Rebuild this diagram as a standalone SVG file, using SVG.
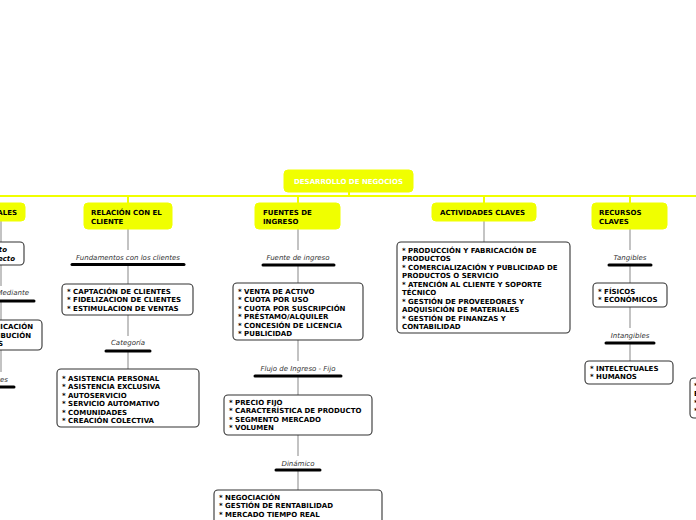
<svg xmlns="http://www.w3.org/2000/svg" width="696" height="520" viewBox="0 0 696 520">
<style>
text{font-family:"DejaVu Sans",Verdana,sans-serif;font-size:7px}
.b{font-weight:bold;fill:#000}
.w{font-weight:bold;fill:#fff}
.bi{font-weight:bold;font-style:italic;fill:#000}
.lbl{font-style:italic;fill:#333}
.y{fill:#f0ff00;stroke:#f0ff00;stroke-width:1}
.box{fill:#fff;stroke:#333;stroke-width:1.1}
.c{stroke:#b0b0b0;stroke-width:1.5;fill:none}
.ys{stroke:#f0ff00;stroke-width:2;fill:none}
.bar{stroke:#000;stroke-width:3;stroke-linecap:round}
</style>
<rect width="696" height="520" fill="#fff"/>
<g id="connectors">
<line class="ys" x1="0" y1="196" x2="696" y2="196"/>
<line class="ys" x1="349" y1="192" x2="349" y2="196"/>
<line class="ys" x1="128" y1="196" x2="128" y2="203"/>
<line class="ys" x1="298" y1="196" x2="298" y2="203"/>
<line class="ys" x1="484" y1="196" x2="484" y2="203"/>
<line class="ys" x1="630" y1="196" x2="630" y2="203"/>
<path class="c" d="M1 221V242M1 265V286M1 301V320M1 350V372"/>
<path class="c" d="M128 229V250M128 265V284M128 315V336M128 351V369"/>
<path class="c" d="M298 229V250M298 265V283M298 340V361M298 376V395M298 435V456M298 470V490"/>
<path class="c" d="M484 221V242"/>
<path class="c" d="M630 229V250M630 265V283M630 307V328M630 343V361"/>
<line class="bar" x1="-30" y1="301" x2="34" y2="301"/>
<line class="bar" x1="-20" y1="387" x2="14" y2="387"/>
<line class="bar" x1="72" y1="264.5" x2="184" y2="264.5"/>
<line class="bar" x1="106" y1="351" x2="150" y2="351"/>
<line class="bar" x1="263" y1="265" x2="334" y2="265"/>
<line class="bar" x1="255" y1="376" x2="341" y2="376"/>
<line class="bar" x1="276" y1="470" x2="320" y2="470"/>
<line class="bar" x1="609" y1="265" x2="651" y2="265"/>
<line class="bar" x1="606" y1="343" x2="654" y2="343"/>
<text class="lbl" x="29" y="294.5" text-anchor="end">Mediante</text>
<text class="lbl" x="8" y="381.5" text-anchor="end">Fases</text>
<text class="lbl" x="128" y="259.5" text-anchor="middle">Fundamentos con los clientes</text>
<text class="lbl" x="128" y="345" text-anchor="middle">Categoría</text>
<text class="lbl" x="298" y="259.5" text-anchor="middle">Fuente de ingreso</text>
<text class="lbl" x="298" y="370.5" text-anchor="middle">Flujo de Ingreso - Fijo</text>
<text class="lbl" x="298" y="465.5" text-anchor="middle">Dinámico</text>
<text class="lbl" x="630" y="259.5" text-anchor="middle">Tangibles</text>
<text class="lbl" x="630" y="337.5" text-anchor="middle">Intangibles</text>
</g>
<g id="root">
<rect class="y" x="284" y="170" width="129" height="22" rx="4"/>
<text class="w" x="348.5" y="183.5" text-anchor="middle">DESARROLLO DE NEGOCIOS</text>
</g>
<g id="canales">
<rect class="y" x="-40" y="203" width="65" height="18" rx="4"/>
<text class="b" x="17" y="215" text-anchor="end">CANALES</text>
</g>
<g id="canales-tipo">
<rect class="box" x="-40" y="242" width="64" height="23" rx="4"/>
<text class="bi" x="7" y="252" text-anchor="end">Directo</text>
<text class="bi" x="15" y="260.5" text-anchor="end">Indirecto</text>
</g>
<g id="canales-mediante">
<rect class="box" x="-40" y="320" width="82" height="30" rx="4"/>
<text class="b" x="33" y="329" text-anchor="end">* COMUNICACIÓN</text>
<text class="b" x="31" y="337.5" text-anchor="end">* DISTRIBUCIÓN</text>
<text class="b" x="3" y="346" text-anchor="end">* VENTAS</text>
</g>
<g id="relacion">
<rect class="y" x="84" y="203" width="88" height="26" rx="4"/>
<text class="b" x="91" y="214.5">RELACIÓN CON EL</text>
<text class="b" x="91" y="223.5">CLIENTE</text>
</g>
<g id="relacion-fund">
<rect class="box" x="62" y="284" width="131" height="31" rx="4"/>
<text class="b" x="67" y="293.5">* CAPTACIÓN DE CLIENTES</text>
<text class="b" x="67" y="302">* FIDELIZACION DE CLIENTES</text>
<text class="b" x="67" y="310.5">* ESTIMULACION DE VENTAS</text>
</g>
<g id="relacion-cat">
<rect class="box" x="57" y="369" width="142" height="58" rx="4"/>
<text class="b" x="62" y="380.5">* ASISTENCIA PERSONAL</text>
<text class="b" x="62" y="389">* ASISTENCIA EXCLUSIVA</text>
<text class="b" x="62" y="397.5">* AUTOSERVICIO</text>
<text class="b" x="62" y="406">* SERVICIO AUTOMATIVO</text>
<text class="b" x="62" y="414.5">* COMUNIDADES</text>
<text class="b" x="62" y="423">* CREACIÓN COLECTIVA</text>
</g>
<g id="fuentes">
<rect class="y" x="255" y="203" width="85" height="26" rx="4"/>
<text class="b" x="263" y="214.5">FUENTES DE</text>
<text class="b" x="263" y="223.5">INGRESO</text>
</g>
<g id="fuentes-ing">
<rect class="box" x="233" y="283" width="130" height="57" rx="4"/>
<text class="b" x="238" y="293.5">* VENTA DE ACTIVO</text>
<text class="b" x="238" y="302">* CUOTA POR USO</text>
<text class="b" x="238" y="310.5">* CUOTA POR SUSCRIPCIÓN</text>
<text class="b" x="238" y="319">* PRÉSTAMO/ALQUILER</text>
<text class="b" x="238" y="327.5">* CONCESIÓN DE LICENCIA</text>
<text class="b" x="238" y="336">* PUBLICIDAD</text>
</g>
<g id="fuentes-fijo">
<rect class="box" x="224" y="395" width="148" height="40" rx="4"/>
<text class="b" x="229" y="404.5">* PRECIO FIJO</text>
<text class="b" x="229" y="413">* CARACTERÍSTICA DE PRODUCTO</text>
<text class="b" x="229" y="421.5">* SEGMENTO MERCADO</text>
<text class="b" x="229" y="430">* VOLUMEN</text>
</g>
<g id="fuentes-din">
<rect class="box" x="214" y="490" width="168" height="50" rx="4"/>
<text class="b" x="219" y="499.5">* NEGOCIACIÓN</text>
<text class="b" x="219" y="508">* GESTIÓN DE RENTABILIDAD</text>
<text class="b" x="219" y="516.5">* MERCADO TIEMPO REAL</text>
</g>
<g id="actividades">
<rect class="y" x="432" y="203" width="104" height="18" rx="4"/>
<text class="b" x="440" y="214.5">ACTIVIDADES CLAVES</text>
</g>
<g id="actividades-list">
<rect class="box" x="397" y="242" width="173" height="91" rx="4"/>
<text class="b" x="402" y="252.5">* PRODUCCIÓN Y FABRICACIÓN DE</text>
<text class="b" x="402" y="261">PRODUCTOS</text>
<text class="b" x="402" y="269.5">* COMERCIALIZACIÓN Y PUBLICIDAD DE</text>
<text class="b" x="402" y="278">PRODUCTOS O SERVICIO</text>
<text class="b" x="402" y="286.5">* ATENCIÓN AL CLIENTE Y SOPORTE</text>
<text class="b" x="402" y="295">TÉCNICO</text>
<text class="b" x="402" y="303.5">* GESTIÓN DE PROVEEDORES Y</text>
<text class="b" x="402" y="312">ADQUISICIÓN DE MATERIALES</text>
<text class="b" x="402" y="320.5">* GESTIÓN DE FINANZAS Y</text>
<text class="b" x="402" y="329">CONTABILIDAD</text>
</g>
<g id="recursos">
<rect class="y" x="592" y="203" width="75" height="26" rx="4"/>
<text class="b" x="599" y="214.5">RECURSOS</text>
<text class="b" x="599" y="223.5">CLAVES</text>
</g>
<g id="recursos-tang">
<rect class="box" x="593" y="283" width="74" height="24" rx="4"/>
<text class="b" x="598" y="293.5">* FÍSICOS</text>
<text class="b" x="598" y="302">* ECONÓMICOS</text>
</g>
<g id="recursos-intang">
<rect class="box" x="585" y="361" width="88" height="23" rx="4"/>
<text class="b" x="590" y="370.5">* INTELECTUALES</text>
<text class="b" x="590" y="379">* HUMANOS</text>
</g>
<g id="right-partial">
<rect class="box" x="690" y="378" width="60" height="40" rx="4"/>
<text class="b" x="694" y="387.5">*</text>
<text class="b" x="694" y="396">E</text>
<text class="b" x="694" y="404.5">*</text>
<text class="b" x="694" y="413">*</text>
</g>
</svg>
